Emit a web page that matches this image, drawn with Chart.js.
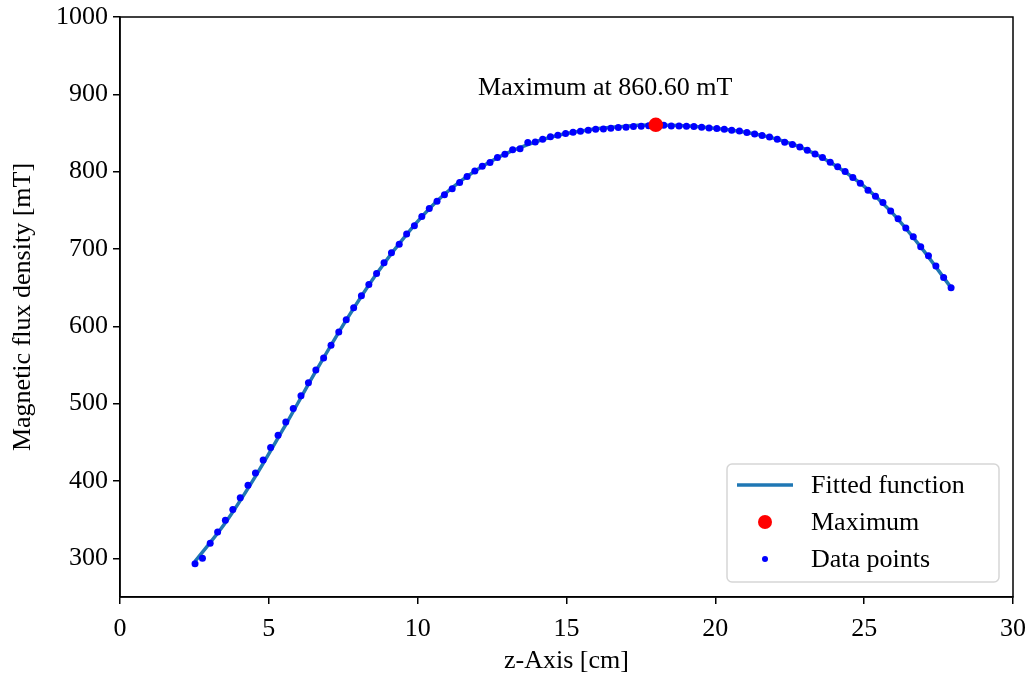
<!DOCTYPE html>
<html>
<head>
<meta charset="utf-8">
<script src="https://cdn.jsdelivr.net/npm/chart.js@4"></script>
<style>
  body { margin: 0; background: #fff; }
  #wrap { width: 1030px; height: 677px; }
</style>
</head>
<body>
<div id="wrap"><canvas id="myChart" width="1030" height="677"></canvas></div>
<script>
const FONT = "'Liberation Serif', serif";

// measured points (z in cm, B in mT)
const zData = [2.52, 2.77, 3.03, 3.28, 3.54, 3.79, 4.04, 4.30, 4.55, 4.81,
  5.06, 5.31, 5.57, 5.82, 6.08, 6.33, 6.58, 6.84, 7.09, 7.35,
  7.60, 7.85, 8.11, 8.36, 8.62, 8.87, 9.12, 9.38, 9.63, 9.89,
  10.14, 10.39, 10.65, 10.90, 11.16, 11.41, 11.66, 11.92, 12.17, 12.43,
  12.68, 12.93, 13.19, 13.44, 13.70, 13.95, 14.20, 14.46, 14.71, 14.97,
  15.22, 15.47, 15.73, 15.98, 16.24, 16.49, 16.74, 17.00, 17.25, 17.51,
  17.76, 18.01, 18.27, 18.52, 18.78, 19.03, 19.28, 19.54, 19.79, 20.05,
  20.30, 20.55, 20.81, 21.06, 21.32, 21.57, 21.82, 22.08, 22.33, 22.59,
  22.84, 23.09, 23.35, 23.60, 23.86, 24.11, 24.36, 24.62, 24.87, 25.13,
  25.38, 25.63, 25.89, 26.14, 26.40, 26.65, 26.90, 27.16, 27.41, 27.67,
  27.92];
const bData = [292.9, 300.1, 319.5, 334.2, 349.2, 363.0, 378.2, 394.4, 410.5, 427.3,
  443.2, 459.0, 476.4, 493.9, 510.3, 527.1, 543.5, 559.0, 575.6, 592.6,
  608.5, 624.0, 639.5, 654.1, 668.3, 682.2, 695.1, 706.3, 719.3, 730.0,
  742.0, 752.3, 761.9, 770.0, 777.8, 785.9, 793.7, 801.0, 807.1, 811.8,
  818.2, 822.6, 828.2, 829.7, 837.6, 838.5, 842.0, 845.3, 847.2, 849.2,
  851.0, 852.3, 853.6, 854.9, 855.3, 856.2, 857.0, 857.5, 858.3, 858.8,
  859.5, 860.0, 860.0, 859.2, 859.2, 858.8, 858.3, 857.5, 856.6, 855.7,
  854.9, 853.6, 852.5, 850.5, 848.8, 846.9, 844.7, 842.0, 838.1, 835.0,
  832.0, 827.8, 823.0, 818.2, 812.3, 806.2, 800.1, 792.4, 785.1, 776.1,
  768.3, 760.1, 749.0, 739.0, 727.0, 715.8, 702.8, 691.2, 677.9, 663.2,
  649.9];

// fitted curve
const zFit = [2.52, 3.54, 4.55, 5.57, 6.58, 7.60, 8.62, 9.63, 10.65, 11.66,
  12.68, 13.70, 14.71, 15.73, 16.74, 17.76, 18.78, 19.79, 20.81, 21.82,
  22.84, 23.86, 24.87, 25.89, 26.90, 27.92];
const bFit = [296, 346, 406, 473, 542, 608, 668, 719, 762, 794,
  818, 835, 847, 854, 858, 860.4, 859.6, 856.8, 852.3, 844.7,
  832, 812.3, 785.1, 749, 702.8, 650];

const zMax = 18.0;
const bMax = 860.6;
const maxLabel = "Maximum at 860.60 mT";

const xTicks = [0, 5, 10, 15, 20, 25, 30];
const yTicks = [300, 400, 500, 600, 700, 800, 900, 1000];

const pts = (xs, ys) => xs.map((x, i) => ({ x: x, y: ys[i] }));

const extras = {
  id: "extras",
  afterDraw(chart) {
    const c = chart.ctx;
    const a = chart.chartArea;
    const sx = chart.scales.x, sy = chart.scales.y;
    c.save();
    // frame on top and right
    c.strokeStyle = "#000";
    c.lineWidth = 1.5;
    c.strokeRect(a.left, a.top, a.right - a.left, a.bottom - a.top);

    // annotation text
    c.fillStyle = "#000";
    c.font = "26px " + FONT;
    c.textAlign = "center";
    c.textBaseline = "middle";
    c.fillText(maxLabel, sx.getPixelForValue(16.3), sy.getPixelForValue(908));

    // legend box
    const lx = 727, ly = 464, lw = 272, lh = 118;
    c.fillStyle = "rgba(255,255,255,0.8)";
    c.strokeStyle = "#d6d6d6";
    c.lineWidth = 1.5;
    c.beginPath();
    c.roundRect(lx, ly, lw, lh, 5);
    c.fill();
    c.stroke();

    c.textAlign = "left";
    c.font = "26px " + FONT;
    const rows = [485, 522, 559];
    c.strokeStyle = "#1f77b4";
    c.lineWidth = 3.5;
    c.beginPath();
    c.moveTo(737, rows[0]);
    c.lineTo(793, rows[0]);
    c.stroke();
    c.fillStyle = "#ff0000";
    c.beginPath();
    c.arc(765, rows[1], 7, 0, Math.PI * 2);
    c.fill();
    c.fillStyle = "#0000ff";
    c.beginPath();
    c.arc(765, rows[2], 3, 0, Math.PI * 2);
    c.fill();
    c.fillStyle = "#000";
    c.fillText("Fitted function", 811, rows[0] + 1);
    c.fillText("Maximum", 811, rows[1] + 1);
    c.fillText("Data points", 811, rows[2] + 1);
    c.restore();
  }
};

const ctx = document.getElementById("myChart");
Chart.defaults.font.family = FONT;
Chart.defaults.font.size = 26;
Chart.defaults.color = "#000";

const myChart = new Chart(ctx, {
  type: "scatter",
  data: {
    datasets: [
      {
        label: "Maximum",
        data: [{ x: zMax, y: bMax }],
        backgroundColor: "#ff0000",
        borderWidth: 0,
        pointRadius: 7.3,
        order: 1,
      },
      {
        label: "Data points",
        data: pts(zData, bData),
        backgroundColor: "#0000ff",
        borderWidth: 0,
        pointRadius: 3.5,
        order: 2,
      },
      {
        label: "Fitted function",
        type: "line",
        data: pts(zFit, bFit),
        borderColor: "#1f77b4",
        borderWidth: 3.5,
        pointRadius: 0,
        cubicInterpolationMode: "monotone",
        fill: false,
        order: 3,
      },
    ],
  },
  options: {
    responsive: false,
    animation: false,
    layout: { padding: { top: 17, right: 17, left: 0, bottom: 0 } },
    plugins: {
      legend: { display: false },
      tooltip: { enabled: false },
    },
    scales: {
      x: {
        type: "linear",
        min: 0,
        max: 30,
        afterBuildTicks: (s) => { s.ticks = xTicks.map((v) => ({ value: v })); },
        afterFit: (s) => { s.height = 80; s.paddingLeft = 0; s.paddingRight = 0; },
        grid: { drawOnChartArea: false, drawTicks: true, tickLength: 7, color: "#000", lineWidth: 1.5 },
        border: { display: true, color: "#000", width: 1.5 },
        ticks: { padding: 10, font: { size: 26 }, callback: (v) => String(v) },
        title: { display: true, text: "z-Axis [cm]", font: { size: 26 }, padding: { top: 0, bottom: 0 } },
      },
      y: {
        min: 250,
        max: 1000,
        afterBuildTicks: (s) => { s.ticks = yTicks.map((v) => ({ value: v })); },
        afterFit: (s) => { s.width = 120; s.paddingTop = 0; s.paddingBottom = 0; },
        grid: { drawOnChartArea: false, drawTicks: true, tickLength: 7, color: "#000", lineWidth: 1.5 },
        border: { display: true, color: "#000", width: 1.5 },
        ticks: { padding: 5, font: { size: 26 }, callback: (v) => String(v) },
        title: { display: true, text: "Magnetic flux density [mT]", font: { size: 26 }, padding: { top: 8, bottom: 0 } },
      },
    },
  },
  plugins: [extras],
});
</script>
</body>
</html>
